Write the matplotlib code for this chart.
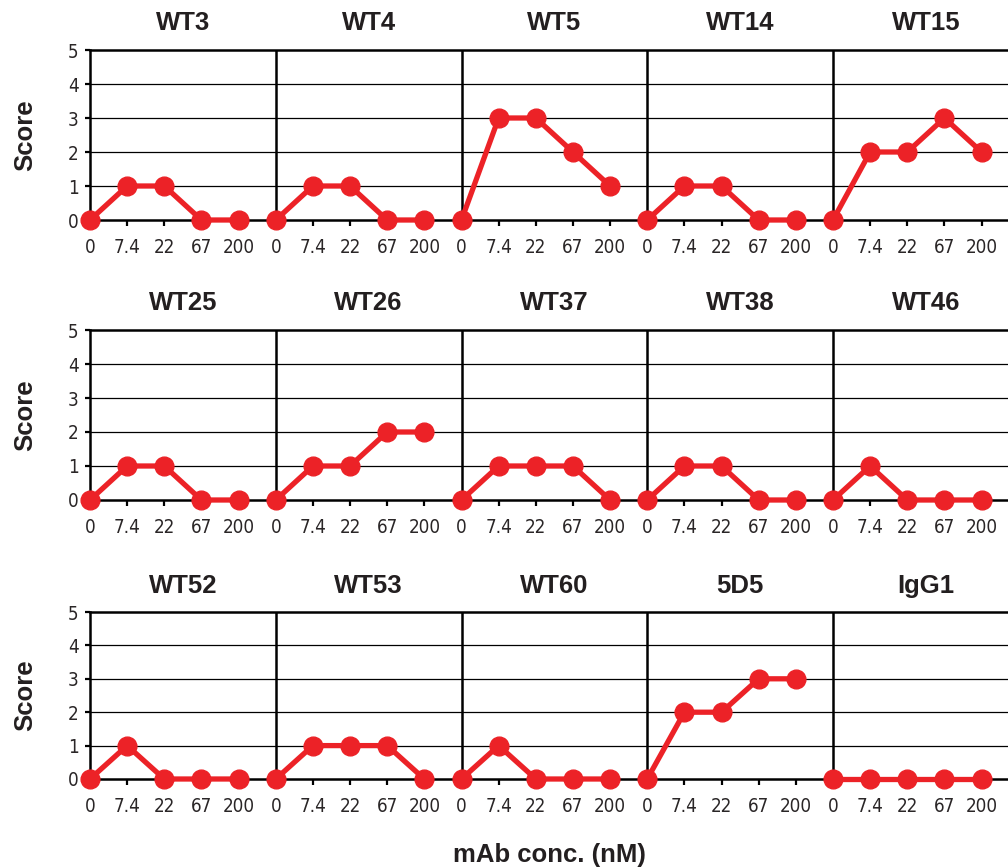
import matplotlib
matplotlib.use("Agg")
import matplotlib.pyplot as plt

concentrations = ["0", "7.4", "22", "67", "200"]

row1_names = ["WT3", "WT4", "WT5", "WT14", "WT15"]
row1_scores = [
    [0, 1, 1, 0, 0],
    [0, 1, 1, 0, 0],
    [0, 3, 3, 2, 1],
    [0, 1, 1, 0, 0],
    [0, 2, 2, 3, 2],
]

row2_names = ["WT25", "WT26", "WT37", "WT38", "WT46"]
row2_scores = [
    [0, 1, 1, 0, 0],
    [0, 1, 1, 2, 2],
    [0, 1, 1, 1, 0],
    [0, 1, 1, 0, 0],
    [0, 1, 0, 0, 0],
]

row3_names = ["WT52", "WT53", "WT60", "5D5", "IgG1"]
row3_scores = [
    [0, 1, 0, 0, 0],
    [0, 1, 1, 1, 0],
    [0, 1, 0, 0, 0],
    [0, 2, 2, 3, 3],
    [0, 0, 0, 0, 0],
]

plt.rcParams["font.family"] = ["Liberation Sans", "DejaVu Sans"]

RED = "#ec2227"
INK = "#231f20"
W, H = 1008, 868
fig = plt.figure(figsize=(W / 100, H / 100), dpi=100)

rows = [
    (row1_names, row1_scores, 50, 220),
    (row2_names, row2_scores, 330, 500),
    (row3_names, row3_scores, 612, 779),
]

n = len(concentrations)
step = 37.15
left_px = 90
xmax = (W - left_px) / step


def style_ticklabels(labels):
    for lab in labels:
        lab.set_fontfamily("DejaVu Sans")
        lab.set_fontstretch("condensed")
        lab.set_fontsize(13.5)
        lab.set_color("#2a2627")


for names, scores, top_px, bot_px in rows:
    ax = fig.add_axes([left_px / W, 1 - bot_px / H, (W - left_px) / W, (bot_px - top_px) / H])
    ax.set_xlim(0, xmax)
    ax.set_ylim(0, 5)
    for y in range(1, 5):
        ax.axhline(y, color="black", lw=0.9, zorder=1)
    for k in range(1, len(names)):
        ax.axvline(k * n, color="black", lw=1.8, zorder=1)
    for k, (name, vals) in enumerate(zip(names, scores)):
        xs = [k * n + i for i in range(n)]
        ax.plot(xs, vals, color=RED, lw=3.8, marker="o", ms=13.5,
                mec=RED, mfc=RED, clip_on=False, zorder=5)
        ax.text(k * n + n / 2, 5.78, name, ha="center", va="center",
                fontsize=18.5, fontweight="bold", color=INK)
    ax.set_xticks(range(n * len(names)))
    ax.set_xticklabels(concentrations * len(names))
    style_ticklabels(ax.get_xticklabels())
    ax.set_yticks(range(0, 6))
    ax.set_yticklabels([str(v) for v in range(6)])
    style_ticklabels(ax.get_yticklabels())
    ax.tick_params(axis="x", direction="out", length=4.3, width=1.6, pad=9)
    ax.tick_params(axis="y", direction="out", length=3.6, width=1.6, pad=4.5)
    for side in ("left", "bottom", "top"):
        ax.spines[side].set_linewidth(1.8)
        ax.spines[side].set_color("black")
    ax.spines["right"].set_visible(False)
    ax.set_ylabel("Score", fontsize=18.5, fontweight="bold", color=INK)
    ax.yaxis.label.set_va("center")
    ax.yaxis.set_label_coords(-(left_px - 25) / (W - left_px), 0.5)

fig.text((left_px + W) / 2 / W, 1 - 855 / H, "mAb conc. (nM)", ha="center", va="center",
         fontsize=18.5, fontweight="bold", color=INK)

fig.savefig("out.png", dpi=100)
